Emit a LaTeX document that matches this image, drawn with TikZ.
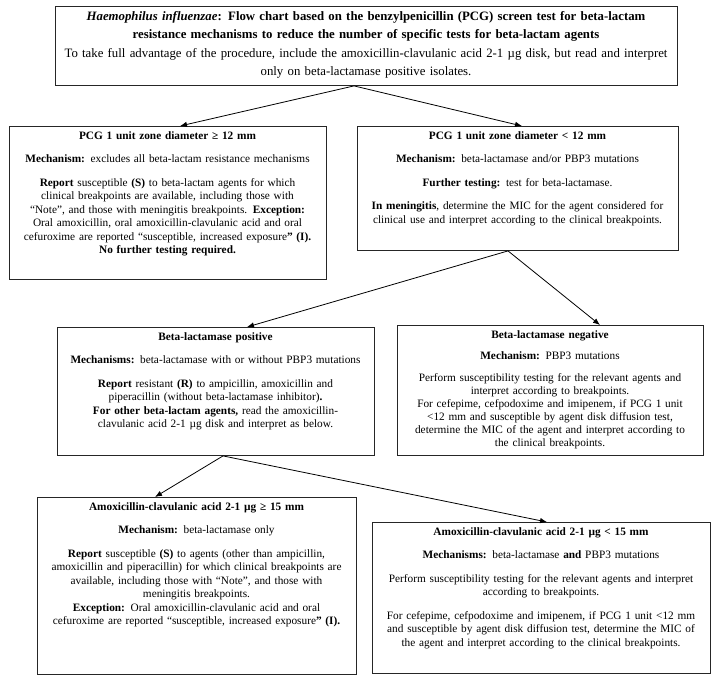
\documentclass[tikz,border=0pt]{standalone}
\usepackage{fontspec}
\setmainfont{Liberation Serif}
\usetikzlibrary{arrows.meta, positioning}

\begin{document}
\begin{tikzpicture}[
    x=1pt, y=-1pt,
    box/.style={rectangle, draw=black!85, line width=0.9pt, align=center, anchor=north, inner xsep=4pt, inner ysep=0pt, text height=13pt, font={\fontsize{11.3}{13.5}\selectfont}},
    arrow/.style={-{Latex[length=7pt, width=5.5pt]}, line width=0.8pt}
]
\useasboundingbox (0,0) rectangle (722,678);

\node[box, text width=614pt, text height=14pt, text depth=65pt, font={\fontsize{12.8}{18.5}\selectfont}] (title) at (366,6) {{\bfseries\itshape Haemophilus influenzae}\textbf{: Flow chart based on the benzylpenicillin (PCG) screen test for beta-lactam}\\
\textbf{resistance mechanisms to reduce the number of specific tests for beta-lactam agents}\\
To take full advantage of the procedure, include the amoxicillin-clavulanic acid 2-1 µg disk, but read and interpret\\
only on beta-lactamase positive isolates.};

\node[box, text width=309pt, text depth=140pt] (pcghigh) at (167.5,126) {\textbf{PCG 1 unit zone diameter ≥ 12 mm}\\[10pt]
\textbf{Mechanism:} excludes all beta-lactam resistance mechanisms\\[10pt]
\textbf{Report} susceptible \textbf{(S)} to beta-lactam agents for which\\
clinical breakpoints are available, including those with\\
“Note”, and those with meningitis breakpoints. \textbf{Exception:}\\
Oral amoxicillin, oral amoxicillin-clavulanic acid and oral\\
cefuroxime are reported “susceptible, increased exposure\textbf{” (I).}\\
\textbf{No further testing required.}};

\node[box, text width=313pt, text depth=111pt] (pcglow) at (517.5,126) {\textbf{PCG 1 unit zone diameter < 12 mm}\\[10pt]
\textbf{Mechanism:} beta-lactamase and/or PBP3 mutations\\[10pt]
\textbf{Further testing:} test for beta-lactamase.\\[10pt]
\textbf{In meningitis}, determine the MIC for the agent considered for\\
clinical use and interpret according to the clinical breakpoints.};

\node[box, text width=309pt, text depth=115pt] (blapos) at (215.5,327) {\textbf{Beta-lactamase positive}\\[10pt]
\textbf{Mechanisms:} beta-lactamase with or without PBP3 mutations\\[10pt]
\textbf{Report} resistant \textbf{(R)} to ampicillin, amoxicillin and\\
piperacillin (without beta-lactamase inhibitor)\textbf{.}\\
\textbf{For other beta-lactam agents,} read the amoxicillin-\\
clavulanic acid 2-1 µg disk and interpret as below.};

\node[box, text width=298pt, text depth=117pt, font={\fontsize{11.3}{13}\selectfont}] (blaneg) at (550,325) {\textbf{Beta-lactamase negative}\\[8.5pt]
\textbf{Mechanism:} PBP3 mutations\\[8.5pt]
Perform susceptibility testing for the relevant agents and\\
interpret according to breakpoints.\\
For cefepime, cefpodoxime and imipenem, if PCG 1 unit\\
<12 mm and susceptible by agent disk diffusion test,\\
determine the MIC of the agent and interpret according to\\
the clinical breakpoints.};

\node[box, text width=311pt, text depth=164pt] (amchigh) at (196.5,497) {\textbf{Amoxicillin-clavulanic acid 2-1 µg ≥ 15 mm}\\[10pt]
\textbf{Mechanism:} beta-lactamase only\\[10pt]
\textbf{Report} susceptible \textbf{(S)} to agents (other than ampicillin,\\
amoxicillin and piperacillin) for which clinical breakpoints are\\
available, including those with “Note”, and those with\\
meningitis breakpoints.\\
\textbf{Exception:} Oral amoxicillin-clavulanic acid and oral\\
cefuroxime are reported “susceptible, increased exposure\textbf{” (I).}};

\node[box, text width=330pt, text depth=138pt] (amclow) at (541,522) {\textbf{Amoxicillin-clavulanic acid 2-1 µg < 15 mm}\\[10pt]
\textbf{Mechanisms:} beta-lactamase \textbf{and} PBP3 mutations\\[10pt]
Perform susceptibility testing for the relevant agents and interpret\\
according to breakpoints.\\[10pt]
For cefepime, cefpodoxime and imipenem, if PCG 1 unit <12 mm\\
and susceptible by agent disk diffusion test, determine the MIC of\\
the agent and interpret according to the clinical breakpoints.};

\draw[arrow] ([xshift=-12pt]title.south) -- ([xshift=12.5pt]pcghigh.north);
\draw[arrow] ([xshift=-12pt]title.south) -- ([xshift=4.5pt]pcglow.north);
\draw[arrow] ([xshift=-9.5pt]pcglow.south) -- ([xshift=31.5pt]blapos.north);
\draw[arrow] ([xshift=-9.5pt]pcglow.south) -- ([xshift=50pt]blaneg.north);
\draw[arrow] ([xshift=7.5pt]blapos.south) -- ([xshift=-41.5pt]amchigh.north);
\draw[arrow] ([xshift=7.5pt]blapos.south) -- ([xshift=6pt]amclow.north);
\end{tikzpicture}
\end{document}
